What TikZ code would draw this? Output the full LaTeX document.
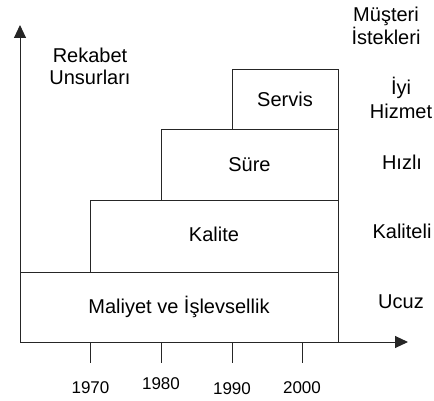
\documentclass[tikz,border=0pt]{standalone}
\usepackage{fontspec}
\setmainfont{Liberation Sans}
\usetikzlibrary{arrows.meta}
\begin{document}
\begin{tikzpicture}[x=1pt,y=-1pt,
  axisline/.style={line width=1pt,draw=black!85,-{Triangle[length=13pt,width=12pt]}},
  layer/.style={draw=black!85,line width=1pt},
  tickline/.style={draw=black!85,line width=1pt},
  lbl/.style={font=\fontsize{20}{24}\selectfont,anchor=base,inner sep=0pt},
  yr/.style={font=\fontsize{17}{20}\selectfont,anchor=base,inner sep=0pt}]
\useasboundingbox (0,0) rectangle (434,401);

% axes
\coordinate (O) at (20,342);
\coordinate (ytip) at (20,25);
\coordinate (xtip) at (408,342);
\draw[axisline] (O) -- (ytip);
\draw[axisline] (O) -- (xtip);

% stacked layers
\draw[layer] (20,272) rectangle (338,342);
\draw[layer] (90.5,201) rectangle (338,272);
\draw[layer] (161,130) rectangle (338,201);
\draw[layer] (232,70) rectangle (338,130);

% ticks
\foreach \n/\x in {a/90.5,b/161,c/232,d/302}{
  \coordinate (t\n top) at (\x,342);
  \coordinate (t\n bot) at (\x,363);
  \draw[tickline] (t\n top) -- (t\n bot);
}

% year labels
\node[yr] (y1970) at (90.5,393) {1970};
\node[yr] (y1980) at (161,389) {1980};
\node[yr] (y1990) at (232,394) {1990};
\node[yr] (y2000) at (302,393) {2000};

% layer labels
\node[lbl] (maliyet) at (179,313) {Maliyet ve İşlevsellik};
\node[lbl] (kalite) at (214,241.5) {Kalite};
\node[lbl] (sure) at (249.5,171.5) {Süre};
\node[lbl] (servis) at (285,106.5) {Servis};

% axis title
\node[lbl] (rek1) at (90,63) {Rekabet};
\node[lbl] (rek2) at (90,85) {Unsurları};

% customer demands
\node[lbl] (mus1) at (386,21.5) {Müşteri};
\node[lbl] (mus2) at (386,45) {İstekleri};
\node[lbl] (iyi1) at (401,95) {İyi};
\node[lbl] (iyi2) at (401,118.5) {Hizmet};
\node[lbl] (hizli) at (402,170) {Hızlı};
\node[lbl] (kaliteli) at (402,238.5) {Kaliteli};
\node[lbl] (ucuz) at (401,308) {Ucuz};
\end{tikzpicture}
\end{document}
